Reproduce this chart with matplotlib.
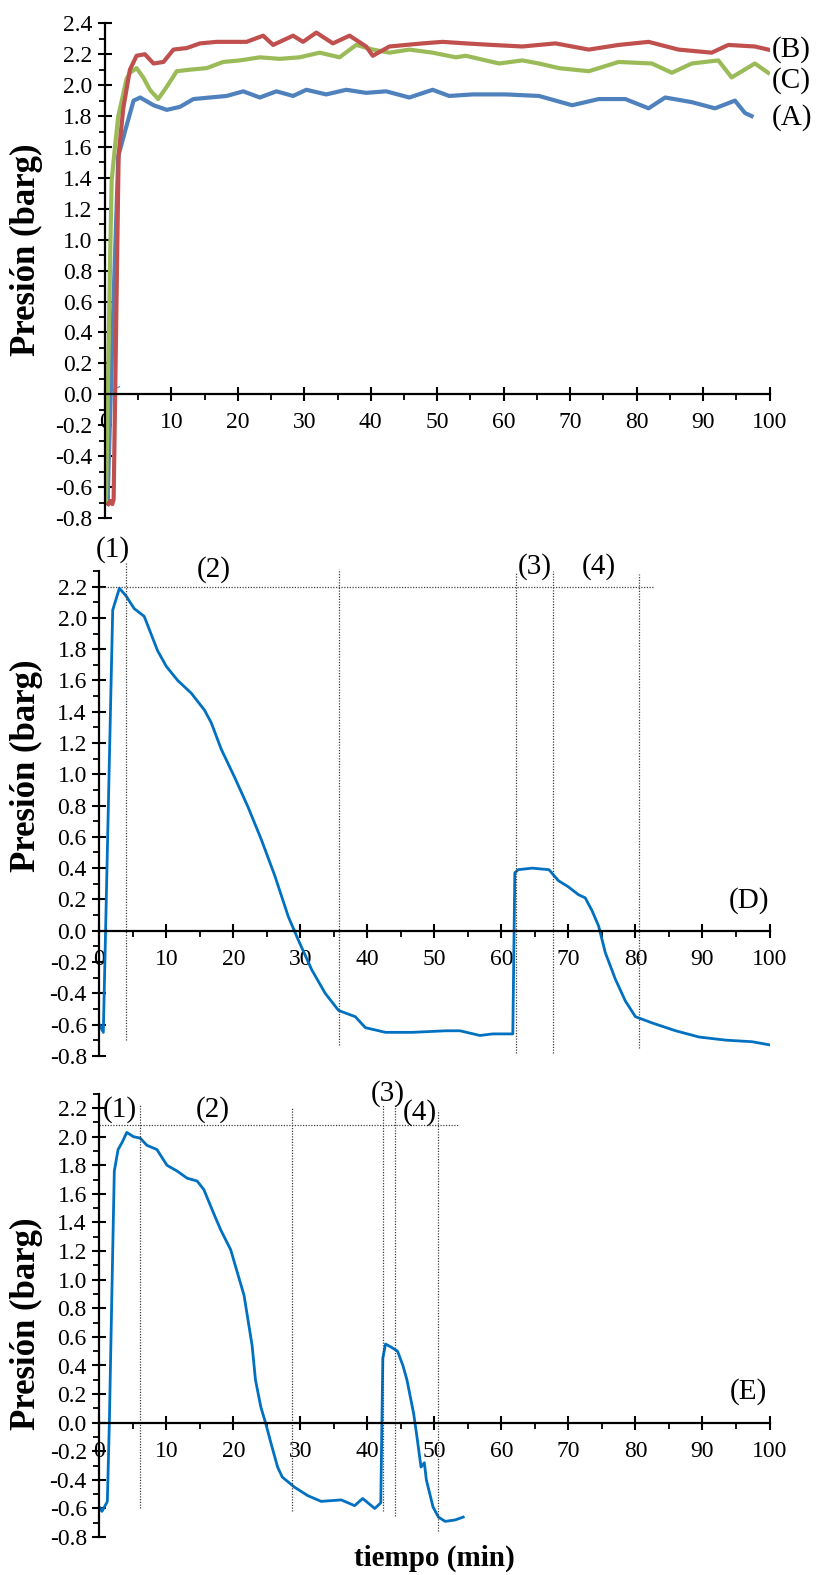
import matplotlib
matplotlib.use("Agg")
import matplotlib.pyplot as plt
from matplotlib.ticker import MultipleLocator, FormatStrFormatter

plt.rcParams['font.family'] = ['Liberation Serif', 'DejaVu Serif']

# ---- panel 1 : curves A, B, C ----
A_t = [0.1, 0.4, 1.2, 2.0, 3.0, 4.3, 5.3, 7.3, 9.3, 11.3, 13.3, 15.8, 18.3, 20.8, 23.3, 25.8,
       28.3, 30.3, 33.3, 36.3, 39.3, 42.3, 45.8, 49.3, 51.8, 55.3, 60.3, 65.3, 70.3, 74.3,
       78.3, 81.8, 84.3, 88.3, 91.8, 94.8, 96.3, 97.3]
A_p = [-0.6, -0.68, 0.5, 1.54, 1.70, 1.90, 1.92, 1.87, 1.84, 1.86, 1.91, 1.92, 1.93, 1.96, 1.92, 1.96,
       1.93, 1.97, 1.94, 1.97, 1.95, 1.96, 1.92, 1.97, 1.93, 1.94, 1.94, 1.93, 1.87, 1.91,
       1.91, 1.85, 1.92, 1.89, 1.85, 1.90, 1.82, 1.80]
A0_t = [0.0, 2.2]
A0_p = [0.0, 0.05]

B_t = [0.5, 0.8, 1.1, 1.3, 2.05, 2.75, 3.75, 4.75, 6.0, 7.3, 8.8, 10.3, 12.3, 14.3, 16.8, 19.3,
       21.3, 23.8, 25.3, 28.3, 29.8, 31.8, 34.3, 36.8, 39.3, 40.3, 42.8, 45.3, 47.8, 50.8,
       54.3, 58.3, 62.8, 67.8, 72.8, 77.3, 81.8, 86.3, 91.3, 93.8, 97.8, 99.8]
B_p = [-0.71, -0.69, -0.71, -0.68, 1.55, 1.85, 2.10, 2.19, 2.20, 2.14, 2.15, 2.23, 2.24, 2.27, 2.28, 2.28,
       2.28, 2.32, 2.26, 2.32, 2.28, 2.34, 2.27, 2.32, 2.25, 2.19, 2.25, 2.26, 2.27, 2.28,
       2.27, 2.26, 2.25, 2.27, 2.23, 2.26, 2.28, 2.23, 2.21, 2.26, 2.25, 2.23]

C_t = [0.15, 0.75, 1.0, 1.5, 2.0, 3.25, 3.75, 4.75, 5.75, 6.76, 8.0, 9.3, 10.8, 12.8, 15.3, 17.8,
       20.3, 23.3, 26.3, 29.3, 32.3, 35.3, 37.8, 40.3, 42.8, 45.8, 49.3, 52.8, 54.3, 59.3,
       62.8, 65.3, 68.3, 72.8, 77.3, 82.3, 85.3, 88.3, 92.3, 94.3, 97.8, 99.8]
C_p = [-0.70, 0.83, 1.38, 1.60, 1.80, 2.04, 2.08, 2.11, 2.05, 1.97, 1.91, 1.99, 2.09, 2.10, 2.11, 2.15,
       2.16, 2.18, 2.17, 2.18, 2.21, 2.18, 2.26, 2.23, 2.21, 2.23, 2.21, 2.18, 2.19, 2.14,
       2.16, 2.14, 2.11, 2.09, 2.15, 2.14, 2.08, 2.14, 2.16, 2.05, 2.14, 2.08]

# ---- panel 2 : curve D ----
D_t = [0.0, 0.6, 2.0, 3.0, 4.0, 5.2, 6.7, 8.7, 10.0, 11.7, 13.7, 15.7, 16.7, 18.2, 20.2, 22.2,
       24.2, 26.2, 28.2, 29.7, 31.7, 33.7, 35.7, 38.2, 39.7, 42.7, 46.7, 51.7, 53.8, 56.8,
       58.7, 61.7, 62.0, 62.5, 64.6, 67.1, 68.5, 70.0, 71.5, 72.5, 73.5, 74.5, 75.5, 77.0,
       78.5, 80.0, 82.5, 86.0, 89.5, 93.5, 97.4, 100.0]
D_p = [-0.60, -0.65, 2.05, 2.19, 2.14, 2.06, 2.01, 1.79, 1.69, 1.60, 1.52, 1.41, 1.33, 1.16, 0.98, 0.79,
       0.58, 0.35, 0.09, -0.06, -0.25, -0.40, -0.51, -0.55, -0.62, -0.65, -0.65, -0.64, -0.64, -0.67,
       -0.66, -0.66, 0.37, 0.39, 0.40, 0.39, 0.32, 0.28, 0.23, 0.21, 0.13, 0.03, -0.14, -0.31,
       -0.45, -0.55, -0.59, -0.64, -0.68, -0.70, -0.71, -0.73]
D_hline = (2.2, 0.0, 82.6)
D_vx = [4.05, 35.8, 62.2, 67.7, 80.5]
D_vtop = [2.35, 2.31, 2.29, 2.30, 2.28]
D_vbot = [-0.70, -0.73, -0.78, -0.78, -0.75]

# ---- panel 3 : curve E ----
E_t = [0.0, 0.4, 1.1, 1.2, 1.5, 2.0, 2.24, 2.8, 3.4, 4.1, 5.1, 6.1, 7.1, 8.6, 10.1, 11.6, 13.1,
       14.6, 15.6, 17.1, 18.1, 19.6, 21.6, 22.8, 23.3, 24.1, 24.8, 25.6, 26.6, 27.3, 29.1,
       31.1, 33.1, 36.1, 38.1, 39.3, 41.1, 42.0, 42.3, 42.7, 43.5, 44.5, 45.3, 45.9, 46.9,
       47.4, 48.0, 48.5, 48.8, 49.8, 50.6, 51.6, 53.1, 54.3]
E_p = [-0.59, -0.62, -0.56, -0.55, 0.0, 1.2, 1.76, 1.91, 1.96, 2.03, 2.00, 1.99, 1.94, 1.91, 1.80, 1.76, 1.71,
       1.69, 1.63, 1.46, 1.35, 1.21, 0.89, 0.54, 0.30, 0.11, 0.0, -0.14, -0.31, -0.38, -0.45,
       -0.51, -0.55, -0.54, -0.58, -0.53, -0.60, -0.56, 0.45, 0.55, 0.53, 0.50, 0.40, 0.30, 0.065,
       -0.10, -0.31, -0.28, -0.40, -0.59, -0.66, -0.69, -0.68, -0.66]
E_hline = (2.08, 0.0, 53.6)
E_vx = [6.0, 28.8, 42.4, 44.1, 50.6]
E_vtop = [2.23, 2.20, 2.22, 2.22, 2.19]
E_vbot = [-0.60, -0.62, -0.62, -0.65, -0.76]

W, H = 816, 1575
fig = plt.figure(figsize=(W / 100, H / 100), dpi=100)


def box(x0, x1, y0, y1):
    return [x0 / W, 1 - y1 / H, (x1 - x0) / W, (y1 - y0) / H]


ax1 = fig.add_axes(box(105, 769.5, 23.3, 518))
ax2 = fig.add_axes(box(99.3, 769.5, 571, 1055.8))
ax3 = fig.add_axes(box(99.3, 769.5, 1093.8, 1537.1))


def style(ax, ytop):
    ax.set_xlim(0, 100)
    ax.set_ylim(-0.8, ytop)
    for s in ['top', 'right']:
        ax.spines[s].set_visible(False)
    ax.spines['bottom'].set_position(('data', 0))
    ax.spines['left'].set_linewidth(1.6)
    ax.spines['bottom'].set_linewidth(1.6)
    ax.xaxis.set_major_locator(MultipleLocator(10))
    ax.xaxis.set_minor_locator(MultipleLocator(5))
    ax.yaxis.set_major_locator(MultipleLocator(0.2))
    ax.yaxis.set_minor_locator(MultipleLocator(0.1))
    ax.yaxis.set_major_formatter(FormatStrFormatter('%.1f'))
    ax.tick_params(which='major', direction='inout', length=10, width=1.5, labelsize=17)
    ax.tick_params(which='minor', direction='out', length=4.5, width=1.3)
    ax.tick_params(axis='y', which='major', pad=4)
    ax.tick_params(axis='x', which='major', pad=8)
    ax.patch.set_alpha(0)


style(ax1, 2.4)
style(ax2, 2.3)
style(ax3, 2.3)

ax1.plot(A_t, A_p, color='#4F81BD', lw=3)
ax1.plot(A0_t, A0_p, color='#4F81BD', lw=0.8)
ax1.plot(C_t, C_p, color='#9BBB59', lw=3)
ax1.plot(B_t, B_p, color='#C0504D', lw=3)
for lab, yv in [('(B)', 2.23), ('(C)', 2.03), ('(A)', 1.79)]:
    ax1.text(100.3, yv, lab, fontsize=21, ha='left', va='center', clip_on=False)

dot = dict(color='0.25', lw=0.9, ls=(0, (1, 1.2)), clip_on=False)

ax2.plot(D_t, D_p, color='#0070C0', lw=2)
ax2.plot([D_hline[1], D_hline[2]], [D_hline[0]] * 2, **dot)
for x, t, b in zip(D_vx, D_vtop, D_vbot):
    ax2.plot([x, x], [b, t], **dot)
for lab, x, y in [('(1)', 2.0, 2.44), ('(2)', 17.1, 2.31), ('(3)', 64.9, 2.33),
                  ('(4)', 74.5, 2.33), ('(D)', 96.9, 0.19)]:
    ax2.text(x, y, lab, fontsize=21, ha='center', va='center', clip_on=False)

ax3.plot(E_t, E_p, color='#0070C0', lw=2)
ax3.plot([E_hline[1], E_hline[2]], [E_hline[0]] * 2, **dot)
for x, t, b in zip(E_vx, E_vtop, E_vbot):
    ax3.plot([x, x], [b, t], **dot)
for lab, x, y in [('(1)', 3.1, 2.19), ('(2)', 16.9, 2.19), ('(3)', 43.1, 2.30),
                  ('(4)', 47.8, 2.17), ('(E)', 96.8, 0.22)]:
    ax3.text(x, y, lab, fontsize=21, ha='center', va='center', clip_on=False)

for yc in [250, 766, 1324]:
    fig.text(26 / W, 1 - yc / H, 'Presión (barg)', rotation=90, fontsize=25,
             fontweight='bold', ha='center', va='center')
fig.text(434.5 / W, 1 - 1558 / H, 'tiempo (min)', fontsize=21, fontweight='bold',
         ha='center', va='center')

fig.savefig('out.png', dpi=100)
